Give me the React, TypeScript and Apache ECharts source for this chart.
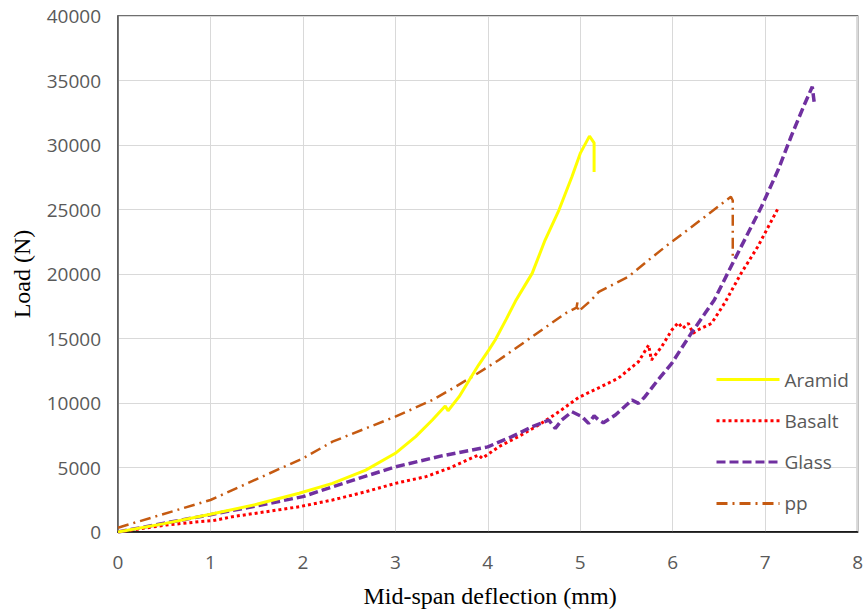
import React, { useEffect, useRef } from "react";
import * as echarts from "echarts";

const xTicks = [0, 1, 2, 3, 4, 5, 6, 7, 8];
const yTicks = [0, 5000, 10000, 15000, 20000, 25000, 30000, 35000, 40000];

const aramidX = [0, 0.5, 1, 1.5, 1.96, 2.32, 2.68, 3.0, 3.22, 3.4, 3.54, 3.57, 3.69, 3.8, 3.9, 4.01, 4.08, 4.2, 4.3, 4.4, 4.48, 4.62, 4.77, 4.91, 5.0, 5.1, 5.15, 5.15];
const aramidY = [0, 650, 1370, 2150, 3000, 3770, 4800, 6100, 7390, 8680, 9765, 9400, 10490, 11780, 12940, 14100, 14880, 16500, 17900, 19100, 20050, 22630, 24955, 27540, 29350, 30690, 30170, 27900];

const basaltX = [0, 0.52, 0.88, 1.03, 1.24, 1.6, 1.96, 2.32, 2.68, 3.0, 3.33, 3.58, 3.9, 3.94, 4.12, 4.33, 4.55, 4.77, 4.98, 5.2, 5.41, 5.63, 5.74, 5.77, 5.88, 5.99, 6.06, 6.11, 6.17, 6.22, 6.27, 6.42, 6.56, 6.74, 6.92, 7.14];
const basaltY = [0, 540, 800, 880, 1190, 1570, 1960, 2480, 3120, 3770, 4290, 4940, 5970, 5710, 6610, 7390, 8290, 9320, 10420, 11180, 11910, 13200, 14490, 13330, 14360, 15650, 16220, 15780, 16170, 15400, 15650, 16170, 17720, 20050, 22110, 25090];

const glassX = [0, 0.5, 1, 1.5, 2, 2.32, 2.68, 3.0, 3.5, 4.0, 4.26, 4.48, 4.66, 4.73, 4.8, 4.91, 5.02, 5.09, 5.15, 5.2, 5.25, 5.38, 5.56, 5.63, 5.7, 5.84, 5.99, 6.2, 6.35, 6.45, 6.63, 6.96, 7.14, 7.28, 7.43, 7.51, 7.53];
const glassY = [0, 680, 1340, 2030, 2740, 3500, 4330, 5050, 5900, 6600, 7390, 8160, 8680, 8030, 8680, 9320, 8940, 8420, 9000, 8680, 8470, 9070, 10230, 9970, 10490, 11780, 13070, 15400, 16950, 17980, 20560, 25210, 28055, 30640, 33220, 34510, 33350];

const ppX = [0, 1, 2, 2.32, 2.68, 3.0, 3.4, 3.65, 3.83, 4.12, 4.48, 4.84, 4.96, 4.97, 4.98, 5.12, 5.2, 5.52, 5.74, 5.92, 6.35, 6.63, 6.65, 6.65];
const ppY = [335, 2480, 5710, 7000, 8030, 8940, 10230, 11260, 12030, 13330, 15140, 16950, 17400, 17800, 17100, 17980, 18620, 19790, 21080, 22110, 24440, 25990, 25700, 21080];

const pairs = (xs: number[], ys: number[]) => xs.map((x, i) => [x, ys[i]]);

const LABEL_FONT = "'Open Sans', 'Liberation Sans', sans-serif";
const TITLE_FONT = "'Liberation Serif', 'DejaVu Serif', serif";

export default function App() {
  const ref = useRef<HTMLDivElement>(null);
  useEffect(() => {
    if (!ref.current) return;
    const chart = echarts.init(ref.current, undefined, { renderer: "svg" });
    chart.setOption({
      animation: false,
      backgroundColor: "#ffffff",
      grid: {
        left: 118,
        right: 7,
        top: 16,
        bottom: 80,
        show: true,
        borderColor: "#404040",
        borderWidth: 1.5,
      },
      legend: {
        orient: "vertical",
        left: 710,
        top: 365,
        itemWidth: 63,
        itemHeight: 14,
        itemGap: 22.3,
        itemStyle: { opacity: 0 },
        lineStyle: { width: 3 },
        textStyle: { color: "#595959", fontSize: 19, fontFamily: LABEL_FONT },
        data: ["Aramid", "Basalt", "Glass", "pp"],
      },
      xAxis: {
        type: "value",
        min: xTicks[0],
        max: xTicks[xTicks.length - 1],
        interval: 1,
        axisLine: { show: true, lineStyle: { color: "#000000", width: 1.5 } },
        axisTick: { show: false },
        axisLabel: { color: "#595959", fontSize: 19, fontFamily: LABEL_FONT, margin: 20 },
        splitLine: { show: true, lineStyle: { color: "#d9d9d9", width: 1 } },
      },
      yAxis: {
        type: "value",
        min: yTicks[0],
        max: yTicks[yTicks.length - 1],
        interval: 5000,
        axisLine: { show: true, lineStyle: { color: "#595959", width: 1.5 } },
        axisTick: { show: false },
        axisLabel: {
          color: "#595959",
          fontSize: 19,
          fontFamily: LABEL_FONT,
          margin: 17,
          formatter: (v: number) => String(v),
        },
        splitLine: { show: true, lineStyle: { color: "#d9d9d9", width: 1 } },
      },
      graphic: [
        {
          type: "text",
          x: 490,
          y: 596,
          style: {
            text: "Mid-span deflection (mm)",
            fill: "#000000",
            font: `24px ${TITLE_FONT}`,
            textAlign: "center",
            textVerticalAlign: "middle",
          },
        },
        {
          type: "text",
          x: 22,
          y: 274,
          rotation: Math.PI / 2,
          style: {
            text: "Load (N)",
            fill: "#000000",
            font: `24px ${TITLE_FONT}`,
            textAlign: "center",
            textVerticalAlign: "middle",
          },
        },
      ],
      series: [
        {
          name: "Aramid",
          type: "line",
          symbol: "none",
          data: pairs(aramidX, aramidY),
          lineStyle: { color: "#FFFF00", width: 3 },
          itemStyle: { color: "#FFFF00" },
          z: 5,
        },
        {
          name: "Basalt",
          type: "line",
          symbol: "none",
          data: pairs(basaltX, basaltY),
          lineStyle: { color: "#FF0000", width: 3, type: [3, 3] },
          itemStyle: { color: "#FF0000" },
          z: 3,
        },
        {
          name: "Glass",
          type: "line",
          symbol: "none",
          data: pairs(glassX, glassY),
          lineStyle: { color: "#7030A0", width: 3.5, type: [9, 4] },
          itemStyle: { color: "#7030A0" },
          z: 4,
        },
        {
          name: "pp",
          type: "line",
          symbol: "none",
          data: pairs(ppX, ppY),
          lineStyle: { color: "#C55A11", width: 2.5, type: [11, 5, 2, 5] },
          itemStyle: { color: "#C55A11" },
          z: 2,
        },
      ],
    });
    return () => chart.dispose();
  }, []);
  return <div ref={ref} style={{ width: 866, height: 612, position: "absolute", left: 0, top: 0 }} />;
}
